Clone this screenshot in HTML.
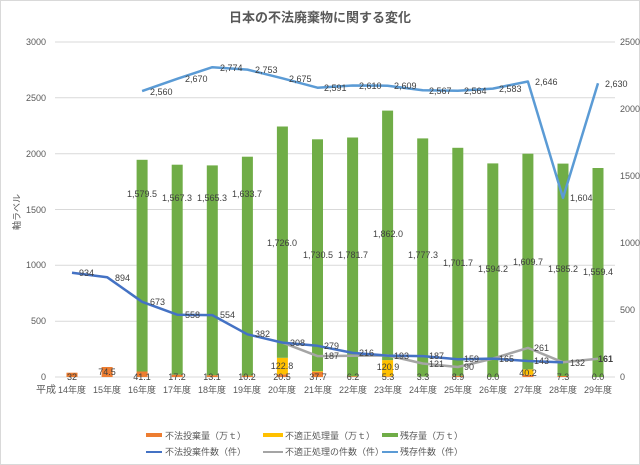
<!DOCTYPE html>
<html><head><meta charset="utf-8"><style>
body{margin:0;background:#fff}
svg{display:block}
text{font-family:"Liberation Sans","Noto Sans CJK JP",sans-serif}
.t{font-size:9px;fill:#595959}
.d{font-size:9px;fill:#404040}
</style></head><body>
<svg width="640" height="465" viewBox="0 0 640 465">
<rect x="0.5" y="0.5" width="639" height="464" fill="#fff" stroke="#d9d9d9"/>
<text x="320" y="22" text-anchor="middle" style="font-size:13px;font-weight:bold;fill:#595959">日本の不法廃棄物に関する変化</text>
<g stroke="#d9d9d9" stroke-width="1">
<line x1="55" x2="615" y1="42" y2="42"/><line x1="55" x2="615" y1="97.8" y2="97.8"/><line x1="55" x2="615" y1="153.7" y2="153.7"/><line x1="55" x2="615" y1="209.5" y2="209.5"/><line x1="55" x2="615" y1="265.3" y2="265.3"/><line x1="55" x2="615" y1="321.2" y2="321.2"/><line x1="55" x2="615" y1="377" y2="377"/>
</g>
<g class="t" text-anchor="end">
<text x="46" y="45">3000</text><text x="46" y="101">2500</text><text x="46" y="157">2000</text><text x="46" y="213">1500</text><text x="46" y="268">1000</text><text x="46" y="324">500</text><text x="46" y="380">0</text>
</g>
<g class="t">
<text x="620" y="45">2500</text><text x="620" y="112">2000</text><text x="620" y="179">1500</text><text x="620" y="246">1000</text><text x="620" y="313">500</text><text x="620" y="380">0</text>
</g>
<text class="t" transform="translate(20,212) rotate(-90)" text-anchor="middle">軸ラベル</text>
<text x="36" y="393" style="font-size:10px;fill:#595959">平成</text>
<g class="t" text-anchor="middle">
<text x="72" y="393">14年度</text><text x="107" y="393">15年度</text><text x="142" y="393">16年度</text><text x="177" y="393">17年度</text><text x="212" y="393">18年度</text><text x="247" y="393">19年度</text><text x="282" y="393">20年度</text><text x="318" y="393">21年度</text><text x="353" y="393">22年度</text><text x="388" y="393">23年度</text><text x="423" y="393">24年度</text><text x="458" y="393">25年度</text><text x="493" y="393">26年度</text><text x="528" y="393">27年度</text><text x="563" y="393">28年度</text><text x="598" y="393">29年度</text>
</g>
<!-- orange -->
<g fill="#ed7d31">
<rect x="66.5" y="372.7" width="11" height="4.3"/><rect x="101.6" y="367" width="11" height="10"/><rect x="136.6" y="371.5" width="11" height="5.5"/><rect x="171.7" y="374.7" width="11" height="2.3"/><rect x="206.8" y="375.2" width="11" height="1.8"/><rect x="241.9" y="375.6" width="11" height="1.4"/><rect x="276.9" y="374.3" width="11" height="2.7"/><rect x="312" y="372" width="11" height="5"/><rect x="347.1" y="376.2" width="11" height="0.8"/><rect x="382.1" y="376.3" width="11" height="0.7"/><rect x="452.3" y="375.8" width="11" height="1.2"/><rect x="522.4" y="374.8" width="11" height="2.2"/><rect x="557.5" y="376" width="11" height="1"/>
</g>
<g fill="#ffc000">
<rect x="276.9" y="357.8" width="11" height="16.5"/><rect x="312" y="371.2" width="11" height="0.8"/><rect x="382.1" y="360.1" width="11" height="16.2"/><rect x="522.4" y="369.4" width="11" height="5.4"/>
</g>
<g fill="#70ad47">
<rect x="136.6" y="159.8" width="11" height="211.7"/><rect x="171.7" y="164.7" width="11" height="210"/><rect x="206.8" y="165.4" width="11" height="209.8"/><rect x="241.9" y="156.7" width="11" height="218.9"/><rect x="276.9" y="126.5" width="11" height="231.3"/><rect x="312" y="139.3" width="11" height="231.9"/><rect x="347.1" y="137.5" width="11" height="238.7"/><rect x="382.1" y="110.6" width="11" height="249.5"/><rect x="417.2" y="138.4" width="11" height="238.2"/><rect x="452.3" y="147.8" width="11" height="228"/><rect x="487.3" y="163.4" width="11" height="213.6"/><rect x="522.4" y="153.7" width="11" height="215.7"/><rect x="557.5" y="163.6" width="11" height="212.4"/><rect x="592.5" y="168" width="11" height="209"/>
</g>
<g fill="none" stroke-width="2.5" stroke-linejoin="round">
<polyline stroke="#a5a5a5" points="282.4,342.6 317.5,356.1 352.6,355.7 387.6,355.4 422.7,363.5 457.8,367 492.8,358.6 527.9,347.9 563,362.3 598,358.8"/>
<polyline stroke="#4472c4" points="72,272.7 107.1,277.2 142.1,301.8 177.2,314.7 212.3,315.1 247.4,334.3 282.4,342.6 317.5,345.8 352.6,352.9 387.6,355.6 422.7,356.1 457.8,359.2 492.8,358.6 527.9,361 563,362.4"/>
<polyline stroke="#5b9bd5" points="142.1,91.1 177.2,78.8 212.3,67.2 247.4,69.6 282.4,78.3 317.5,87.7 352.6,85.5 387.6,85.7 422.7,90.3 457.8,90.7 492.8,88.6 527.9,81.5 563,197.9 598,83.3"/>
</g>
<g class="d">
<text x="150" y="95">2,560</text><text x="185" y="82">2,670</text><text x="220" y="71">2,774</text><text x="255" y="73">2,753</text><text x="289" y="82">2,675</text><text x="324" y="91">2,591</text><text x="359" y="89">2,610</text><text x="394" y="89">2,609</text><text x="429" y="94">2,567</text><text x="464" y="94">2,564</text><text x="499" y="92">2,583</text><text x="535" y="85">2,646</text><text x="570" y="201">1,604</text><text x="605" y="87">2,630</text>
<text x="79" y="276">934</text><text x="115" y="281">894</text><text x="150" y="305">673</text><text x="185" y="318">558</text><text x="220" y="318">554</text><text x="255" y="337">382</text><text x="290" y="346">308</text><text x="324" y="349">279</text><text x="324" y="359">187</text><text x="359" y="356">216</text><text x="394" y="359">193</text><text x="429" y="359">187</text><text x="429" y="367">121</text><text x="464" y="362">159</text><text x="464" y="370">90</text><text x="499" y="362">165</text><text x="534" y="351">261</text><text x="534" y="364">143</text><text x="570" y="366">132</text><text x="598" y="362" style="font-weight:bold">161</text>
<g text-anchor="middle">
<text x="142" y="197">1,579.5</text><text x="177" y="201">1,567.3</text><text x="212" y="201">1,565.3</text><text x="247" y="197">1,633.7</text><text x="282" y="246">1,726.0</text><text x="318" y="258">1,730.5</text><text x="353" y="258">1,781.7</text><text x="388" y="237">1,862.0</text><text x="423" y="258">1,777.3</text><text x="458" y="266">1,701.7</text><text x="493" y="272">1,594.2</text><text x="528" y="265">1,609.7</text><text x="563" y="272">1,585.2</text><text x="598" y="275">1,559.4</text>
<text x="72" y="380">32</text><text x="107" y="375">74.5</text><text x="142" y="380">41.1</text><text x="177" y="380">17.2</text><text x="212" y="380">13.1</text><text x="247" y="380">10.2</text><text x="282" y="369">122.8</text><text x="282" y="380">20.5</text><text x="318" y="380">37.7</text><text x="353" y="380">6.2</text><text x="388" y="370">120.9</text><text x="388" y="380">5.3</text><text x="423" y="380">3.3</text><text x="458" y="380">8.9</text><text x="493" y="380">0.0</text><text x="528" y="376">40.2</text><text x="563" y="380">7.3</text><text x="598" y="380">0.0</text>
</g>
</g>
<g style="font-size:9px;fill:#595959">
<rect x="146" y="433" width="16" height="4" fill="#ed7d31"/><text x="165" y="439">不法投棄量（万ｔ）</text>
<rect x="263" y="433" width="20" height="4" fill="#ffc000"/><text x="285" y="439">不適正処理量（万ｔ）</text>
<rect x="382" y="433" width="16" height="4" fill="#70ad47"/><text x="400" y="439">残存量（万ｔ）</text>
<rect x="146" y="451" width="16" height="2" fill="#4472c4"/><text x="165" y="455">不法投棄件数（件）</text>
<rect x="263" y="451" width="20" height="2" fill="#a5a5a5"/><text x="285" y="455">不適正処理の件数（件）</text>
<rect x="382" y="451" width="16" height="2" fill="#5b9bd5"/><text x="400" y="455">残存件数（件）</text>
</g>
</svg>
</body></html>
